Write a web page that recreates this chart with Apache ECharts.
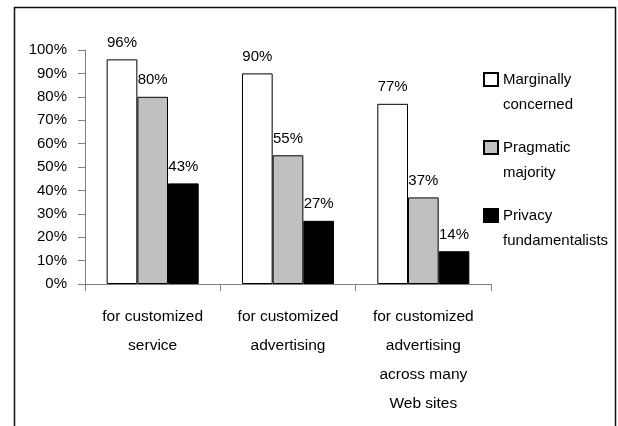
<!DOCTYPE html>
<html>
<head>
<meta charset="utf-8">
<script src="https://cdn.jsdelivr.net/npm/echarts@6/dist/echarts.min.js"></script>
<style>
  html, body { margin: 0; padding: 0; background: #fff; }
  #chart { width: 618px; height: 426px; }
</style>
</head>
<body>
<div id="chart"></div>
<script>
// data
const categories = [
  'for customized\nservice',
  'for customized\nadvertising',
  'for customized\nadvertising\nacross many\nWeb sites'
]
const seriesNames = ['Marginally concerned', 'Pragmatic majority', 'Privacy fundamentalists']
const legendLabels = ['Marginally\nconcerned', 'Pragmatic\nmajority', 'Privacy\nfundamentalists']
const marginallyConcerned = [96, 90, 77]
const pragmaticMajority = [80, 55, 37]
const privacyFundamentalists = [43, 27, 14]
const barColors = ['#ffffff', '#c0c0c0', '#000000']

const font = 'Liberation Sans, Arial, sans-serif'
const chart = echarts.init(document.getElementById('chart'), null, { renderer: 'canvas' })

function makeSeries(name, data, color) {
  return {
    name: name,
    type: 'bar',
    barGap: '0%',
    barCategoryGap: '32%',
    itemStyle: {
      color: color,
      borderColor: '#000',
      borderWidth: 1
    },
    label: {
      show: true,
      position: 'top',
      distance: 9,
      formatter: '{c}%',
      color: '#000',
      fontSize: 15,
      fontFamily: font
    },
    emphasis: { disabled: true },
    data: data
  }
}

chart.setOption({
  backgroundColor: '#fff',
  animation: false,
  graphic: [{
    type: 'rect',
    shape: { x: 14.5, y: 7.5, width: 601, height: 440 },
    style: { fill: 'none', stroke: '#111', lineWidth: 1.5 },
    silent: true
  }],
  grid: {
    left: 85,
    right: 127,
    top: 50,
    bottom: 142,
    containLabel: false
  },
  legend: {
    orient: 'vertical',
    left: 483,
    top: 42,
    padding: 0,
    itemGap: -7,
    itemWidth: 14,
    itemHeight: 13,
    icon: 'rect',
    selectedMode: false,
    data: seriesNames,
    // empty first line so the first text line sits level with the icon
    formatter: function (name) {
      return '\n' + legendLabels[seriesNames.indexOf(name)]
    },
    textStyle: {
      color: '#000',
      fontSize: 15,
      fontFamily: font,
      lineHeight: 25
    }
  },
  xAxis: {
    type: 'category',
    data: categories,
    axisLine: { lineStyle: { color: '#808080', width: 1 } },
    axisTick: { show: true, length: 7, interval: 0, lineStyle: { color: '#808080' } },
    axisLabel: {
      interval: 0,
      margin: 18,
      color: '#000',
      fontSize: 15.5,
      fontFamily: font,
      lineHeight: 29
    },
    splitLine: { show: false }
  },
  yAxis: {
    type: 'value',
    min: 0,
    max: 100,
    interval: 10,
    axisLine: { show: true, lineStyle: { color: '#808080', width: 1 } },
    axisTick: { show: true, length: 7, lineStyle: { color: '#808080' } },
    axisLabel: {
      formatter: '{value}%',
      margin: 18,
      color: '#000',
      fontSize: 15,
      fontFamily: font
    },
    splitLine: { show: false }
  },
  series: [
    makeSeries(seriesNames[0], marginallyConcerned, barColors[0]),
    makeSeries(seriesNames[1], pragmaticMajority, barColors[1]),
    makeSeries(seriesNames[2], privacyFundamentalists, barColors[2])
  ]
})
</script>
</body>
</html>
